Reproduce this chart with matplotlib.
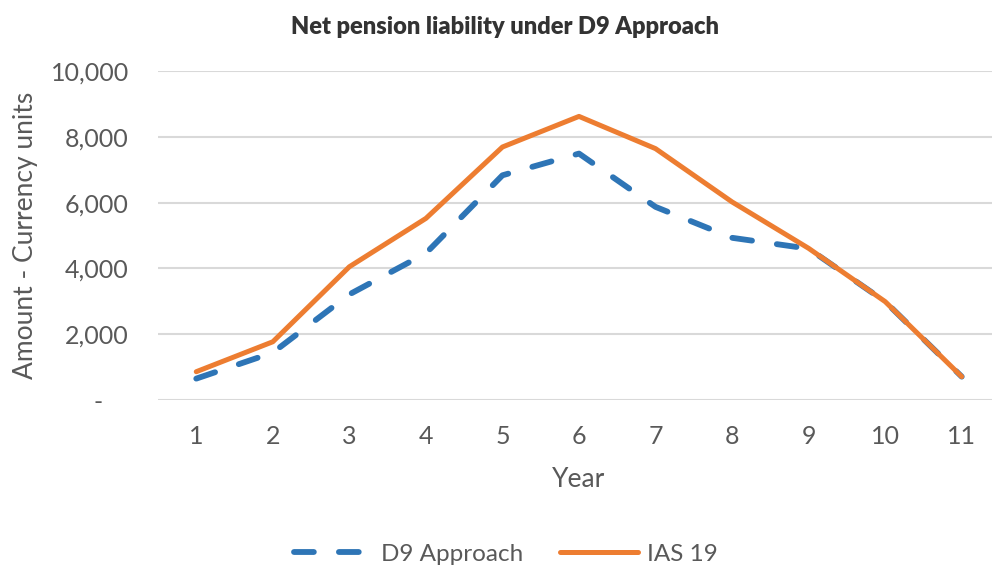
import matplotlib.pyplot as plt
from matplotlib.ticker import FixedLocator

# data
years = [1, 2, 3, 4, 5, 6, 7, 8, 9, 10, 11]
d9_approach = [650, 1440, 3210, 4460, 6830, 7490, 5870, 4930, 4600, 2990, 710]
ias_19 = [860, 1770, 4050, 5520, 7690, 8620, 7640, 6020, 4610, 2990, 710]
y_ticks = [0, 2000, 4000, 6000, 8000, 10000]
y_tick_labels = ['-    ', '2,000', '4,000', '6,000', '8,000', '10,000']

blue = '#2E75B6'
orange = '#ED7D31'
grey_text = '#595959'

plt.rcParams['font.family'] = ['Lato', 'DejaVu Sans']

fig = plt.figure(figsize=(9.92, 5.7), dpi=100)
# axes box in pixels: x 158..1000, y 71..400
ax = fig.add_axes([158 / 992, 170 / 570, 842 / 992, 329 / 570])

ax.plot(years, d9_approach, color=blue, linewidth=4.2, dashes=(3.4, 4.3),
        dash_capstyle='round', label='D9 Approach')
ax.plot(years, ias_19, color=orange, linewidth=3.6,
        solid_capstyle='round', label='IAS 19')

ax.set_xlim(0.5, 11.5)
ax.set_ylim(0, 10000)
ax.xaxis.set_major_locator(FixedLocator(years))
ax.set_yticks(y_ticks)
ax.set_yticklabels(y_tick_labels)

ax.grid(axis='y', color='#d9d9d9', linewidth=1.5)
ax.set_axisbelow(True)
for s in ax.spines.values():
    s.set_visible(False)
ax.tick_params(axis='both', length=0, labelsize=18, labelcolor=grey_text)
ax.tick_params(axis='y', pad=21)
ax.tick_params(axis='x', pad=18)

ax.set_xlabel('Year', fontsize=19, color=grey_text, labelpad=14)
ax.set_ylabel('Amount - Currency units', fontsize=19, color=grey_text)
ax.yaxis.set_label_coords(-0.143, 0.5)

fig.text(0.509, 0.953, 'Net pension liability under D9 Approach',
         ha='center', va='center', fontsize=17, fontweight='heavy', color='#333333')

fig.legend(loc='center', bbox_to_anchor=(0.51, 0.028), ncol=2, frameon=False,
           fontsize=17.5, labelcolor=grey_text, handlelength=3.2,
           columnspacing=1.5, handletextpad=0.4)

fig.savefig('out.png', dpi=100)
